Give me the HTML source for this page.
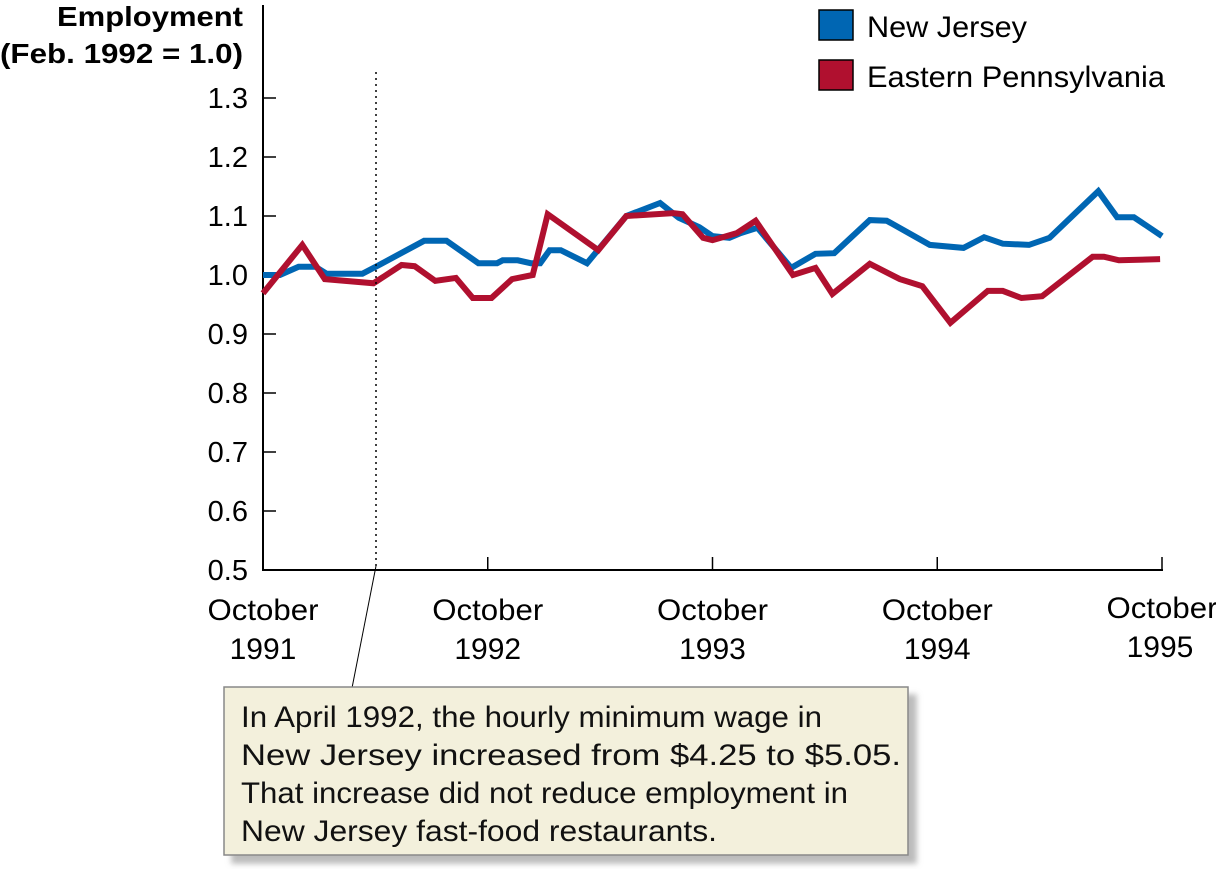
<!DOCTYPE html>
<html><head><meta charset="utf-8"><style>
body{margin:0;background:#fff;width:1216px;height:869px;overflow:hidden;font-family:"Liberation Sans",Arial,sans-serif}
</style></head><body>
<svg id="chart" width="1216" height="869" style="position:absolute;left:0;top:0" font-family="Liberation Sans, Arial, sans-serif">
<defs><filter id="sh" x="-5%" y="-5%" width="115%" height="120%"><feDropShadow dx="8" dy="8" stdDeviation="3" flood-color="#bbb"/></filter></defs>
<text x="243" y="26" text-anchor="end" font-size="28" font-weight="bold" textLength="186" lengthAdjust="spacingAndGlyphs">Employment</text>
<text x="243" y="63" text-anchor="end" font-size="28" font-weight="bold" textLength="243" lengthAdjust="spacingAndGlyphs">(Feb. 1992 = 1.0)</text>
<g id="axes"></g>
<g id="lines"></g>
<rect x="819" y="10" width="34" height="30" fill="#0066b3" stroke="#000" stroke-width="1.5"/>
<text x="867" y="37" font-size="30" textLength="160" lengthAdjust="spacingAndGlyphs">New Jersey</text>
<rect x="819" y="60" width="34" height="30" fill="#b0102f" stroke="#000" stroke-width="1.5"/>
<text x="867" y="87" font-size="30" textLength="298" lengthAdjust="spacingAndGlyphs">Eastern Pennsylvania</text>
<line x1="376" y1="72" x2="376" y2="568" stroke="#000" stroke-width="1.5" stroke-dasharray="2,4"/>
<line x1="376" y1="566" x2="352" y2="688" stroke="#000" stroke-width="1"/>
<g>
<rect x="224" y="687" width="684" height="168" fill="#f3f0dc" stroke="#888" stroke-width="1.5" filter="url(#sh)"/>
<text x="241" y="727" font-size="30" fill="#111" textLength="581" lengthAdjust="spacingAndGlyphs">In April 1992, the hourly minimum wage in</text>
<text x="241" y="765" font-size="30" fill="#111" textLength="660" lengthAdjust="spacingAndGlyphs">New Jersey increased from $4.25 to $5.05.</text>
<text x="241" y="803" font-size="30" fill="#111" textLength="607" lengthAdjust="spacingAndGlyphs">That increase did not reduce employment in</text>
<text x="241" y="841" font-size="30" fill="#111" textLength="476" lengthAdjust="spacingAndGlyphs">New Jersey fast-food restaurants.</text>
</g>
</svg>
<script>
const yTicks=[0.5,0.6,0.7,0.8,0.9,1.0,1.1,1.2,1.3];
const yTickLabels=["0.5","0.6","0.7","0.8","0.9","1.0","1.1","1.2","1.3"];
const xTickMonths=[0,12,24,36,48];
const xTickLabels=["1991","1992","1993","1994","1995"];
const njMonths=[0,0.9,1.9,2.8,3.4,5.3,6.2,8.6,9.8,11.5,12.5,12.8,13.6,14.3,14.8,15.3,15.9,17.3,19.4,21.2,22.2,23.3,24.0,24.9,25.5,26.4,28.2,29.5,30.5,32.4,33.3,35.6,37.4,38.5,39.5,40.9,42.0,44.6,45.6,46.5,48];
const njValues=[1.000,1.000,1.014,1.014,1.002,1.002,1.017,1.058,1.058,1.020,1.020,1.025,1.025,1.020,1.020,1.042,1.042,1.020,1.100,1.122,1.097,1.081,1.066,1.063,1.071,1.080,1.012,1.036,1.037,1.093,1.092,1.051,1.046,1.064,1.053,1.051,1.063,1.142,1.098,1.098,1.066];
const epMonths=[0,2.1,3.3,5.9,7.4,8.1,9.2,10.3,11.2,12.2,13.3,14.4,14.8,15.2,17.9,19.4,21.9,22.4,23.5,24.0,25.3,26.3,28.3,29.5,30.4,32.4,34.0,35.2,36.7,38.7,39.5,40.5,41.6,44.3,44.9,45.7,47.9];
const epValues=[0.969,1.051,0.993,0.986,1.017,1.015,0.990,0.995,0.961,0.961,0.993,1.000,1.051,1.103,1.042,1.100,1.105,1.103,1.063,1.059,1.071,1.092,1.000,1.012,0.968,1.019,0.993,0.981,0.919,0.973,0.973,0.961,0.964,1.031,1.031,1.025,1.027];
const X=m=>263+m*(899/48), Y=v=>570-(v-0.5)*590;
const NS="http://www.w3.org/2000/svg";
const ax=document.getElementById('axes'), ln=document.getElementById('lines');
function mk(tag,at,parent){const e=document.createElementNS(NS,tag);for(const k in at)e.setAttribute(k,at[k]);parent.appendChild(e);return e;}
const ya=mk('line',{x1:263,y1:5,x2:263,y2:571,stroke:'#000','stroke-width':2},ax);


const xa=mk('line',{x1:262,y1:570,x2:1163,y2:570,stroke:'#000','stroke-width':2},ax);


yTicks.forEach((v,i)=>{
 mk('line',{x1:263,y1:Y(v),x2:276,y2:Y(v),stroke:'#000','stroke-width':1.5},ax);
 const t=mk('text',{x:248,y:Y(v)+10,'text-anchor':'end','font-size':29},ax);t.textContent=yTickLabels[i];
 
 
});
xTickMonths.forEach((m,i)=>{
 const x=X(m);
 mk('line',{x1:x,y1:557,x2:x,y2:570,stroke:'#000','stroke-width':1.5},ax);
 const last=i==xTickLabels.length-1, dy=last?-2:0;
 const t=mk('text',{x:x,y:620+dy,'text-anchor':'middle','font-size':30,textLength:111,lengthAdjust:'spacingAndGlyphs'},ax);t.textContent='October';
 
 
 const t2=mk('text',{x:x+(last?-2:0),y:659+dy,'text-anchor':'middle','font-size':30},ax);t2.textContent=xTickLabels[i];
 
 
});
function path(ms,vs,color,name){
 const n=Math.min(ms.length,vs.length);
 const d=ms.slice(0,n).map((m,i)=>(i?'L':'M')+X(m).toFixed(1)+','+Y(vs[i]).toFixed(1)).join('');
 const p=mk('path',{d:d,fill:'none',stroke:color,'stroke-width':6,'stroke-linejoin':'miter'},ln);
 
 
}
path(njMonths,njValues,'#0066b3','new-jersey-line');
path(epMonths,epValues,'#b0102f','eastern-pennsylvania-line');
</script>
</body></html>
